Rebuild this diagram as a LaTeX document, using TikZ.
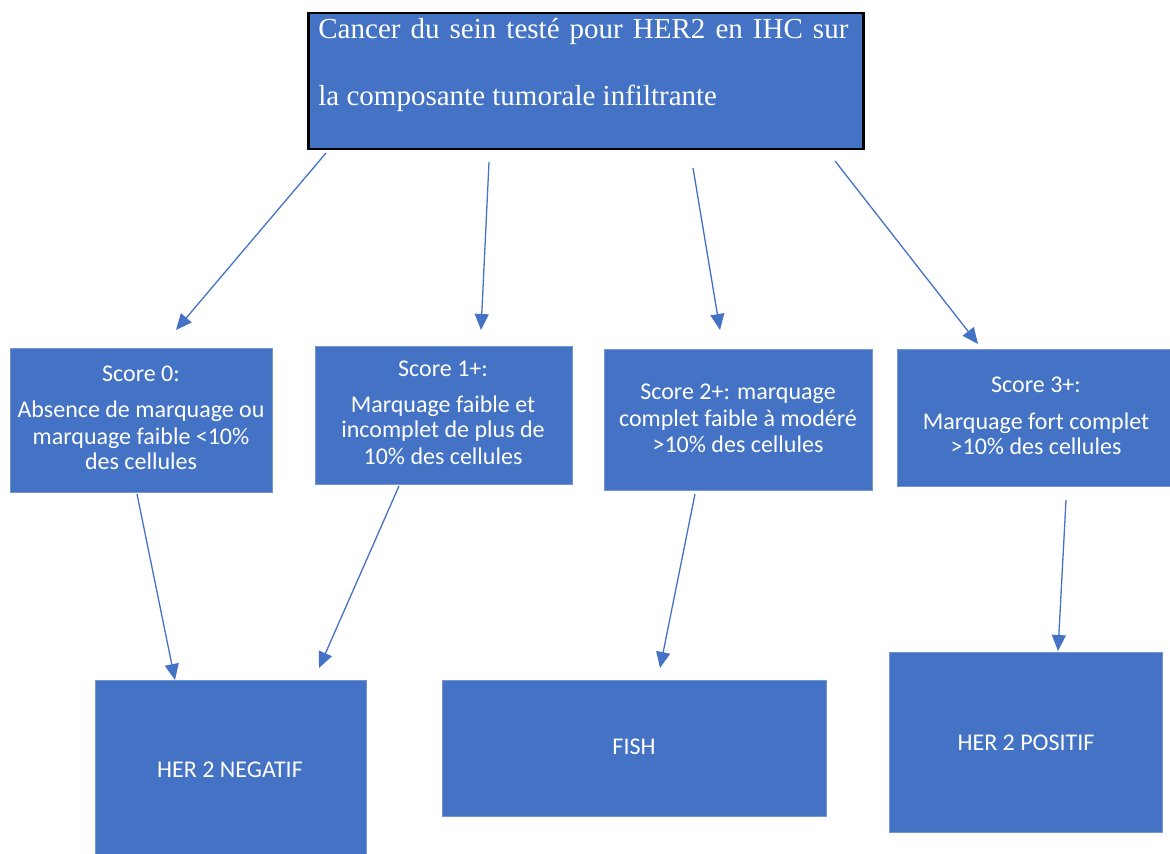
\documentclass[tikz,border=0pt]{standalone}
\usepackage{fontspec}
\setmainfont{Carlito}
\newfontfamily\tnr{Liberation Serif}
\usetikzlibrary{arrows.meta}
\definecolor{boxblue}{HTML}{4472C4}
\begin{document}
\begin{tikzpicture}[x=0.5pt,y=-0.5pt,
  box/.style={fill=boxblue, draw=boxblue!75!white, line width=0.4pt, inner sep=0pt, anchor=north west},
  topbox/.style={fill=boxblue, draw=black, line width=1.25pt, inner sep=0pt, anchor=north west},
  arr/.style={draw=boxblue, line width=0.65pt, -{Triangle[length=8pt,width=7pt]}},
  tx/.style={text=white, inner sep=0pt, anchor=base, font=\fontsize{12pt}{14pt}\selectfont},
  ttx/.style={text=white, inner sep=0pt, anchor=base west, font=\tnr\fontsize{14.5pt}{17pt}\selectfont}]
\useasboundingbox (0,0) rectangle (1170,854);

% boxes
\node[topbox, minimum width=277.5pt, minimum height=68pt] (top) at (307,12) {};
\node[box, minimum width=131pt, minimum height=72pt] (s0) at (10,348) {};
\node[box, minimum width=128.5pt, minimum height=69pt] (s1) at (315,346) {};
\node[box, minimum width=134pt, minimum height=70.5pt] (s2) at (604,349) {};
\node[box, minimum width=136.5pt, minimum height=68.5pt] (s3) at (897,349) {};
\node[box, minimum width=135.5pt, minimum height=87pt] (neg) at (95,680) {};
\node[box, minimum width=192pt, minimum height=68pt] (fish) at (442,680) {};
\node[box, minimum width=136.5pt, minimum height=90pt] (pos) at (889,652) {};

% top text
\node[ttx] (h1) at (318,39) {\makebox[265pt][s]{Cancer du sein testé pour HER2 en IHC sur}};
\node[ttx] (h2) at (318,106) {la composante tumorale infiltrante};

% score texts
\node[tx] (t0a) at (141,382) {Score 0:};
\node[tx] (t0b) at (141,418) {Absence de marquage ou};
\node[tx] (t0c) at (141,445) {marquage faible <10\%};
\node[tx] (t0d) at (141,470) {des cellules};

\node[tx] (t1a) at (443,377) {Score 1+:};
\node[tx] (t1b) at (443,413) {Marquage faible et};
\node[tx] (t1c) at (443,438) {incomplet de plus de};
\node[tx] (t1d) at (443,465) {10\% des cellules};

\node[tx] (t2a) at (738,400) {Score 2+: marquage};
\node[tx] (t2b) at (738,427) {complet faible à modéré};
\node[tx] (t2c) at (738,452) {>10\% des cellules};

\node[tx] (t3a) at (1036,393) {Score 3+:};
\node[tx] (t3b) at (1036,430) {Marquage fort complet};
\node[tx] (t3c) at (1036,455) {>10\% des cellules};

\node[tx] (tneg) at (230,777) {HER 2 NEGATIF};
\node[tx] (tfish) at (634,754) {FISH};
\node[tx] (tpos) at (1026,750) {HER 2 POSITIF};

% connector ends
\coordinate (a1s) at (326,153); \coordinate (a1e) at (176,330);
\coordinate (a2s) at (489,162); \coordinate (a2e) at (481,330);
\coordinate (a3s) at (693,168); \coordinate (a3e) at (720,330);
\coordinate (a4s) at (835,161); \coordinate (a4e) at (978,344);
\coordinate (b1s) at (137,494); \coordinate (b1e) at (175,680);
\coordinate (b2s) at (399,486); \coordinate (b2e) at (319,668);
\coordinate (b3s) at (695,494); \coordinate (b3e) at (660,668);
\coordinate (b4s) at (1066,500); \coordinate (b4e) at (1058,651);

\draw[arr] (a1s) -- (a1e);
\draw[arr] (a2s) -- (a2e);
\draw[arr] (a3s) -- (a3e);
\draw[arr] (a4s) -- (a4e);
\draw[arr] (b1s) -- (b1e);
\draw[arr] (b2s) -- (b2e);
\draw[arr] (b3s) -- (b3e);
\draw[arr] (b4s) -- (b4e);
\end{tikzpicture}
\end{document}
